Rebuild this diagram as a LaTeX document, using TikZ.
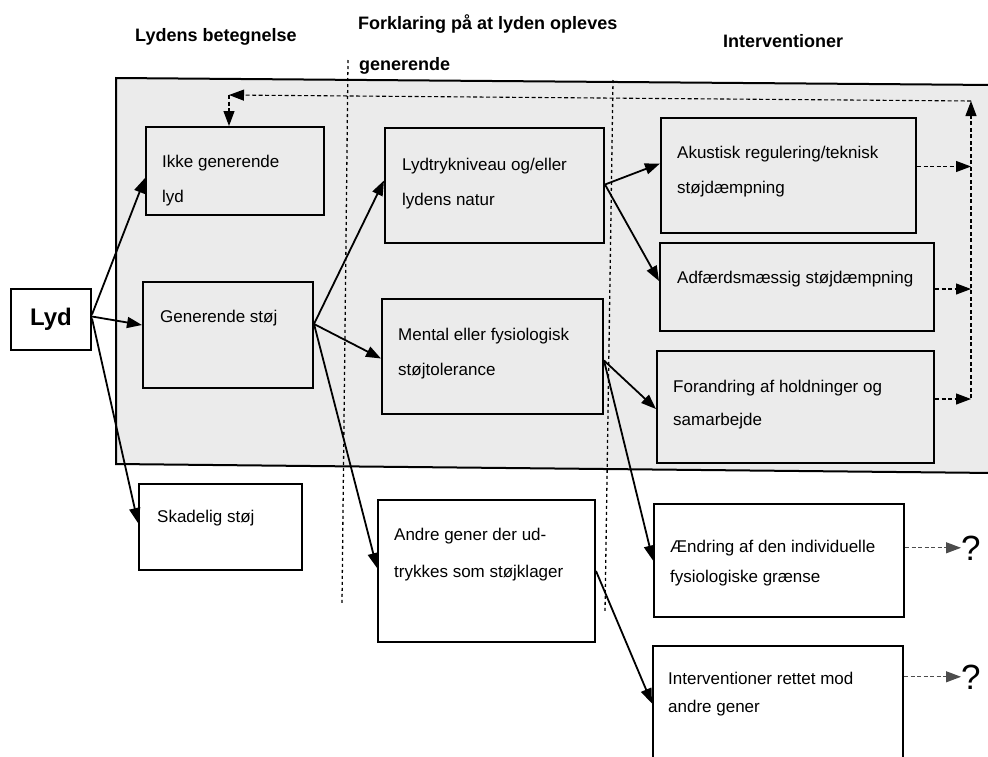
\documentclass[tikz,border=0pt]{standalone}
\usepackage{fontspec}
\setmainfont{Liberation Sans}
\usetikzlibrary{arrows.meta,calc}
\newcommand\twol[3]{{\fontsize{17}{#1}\selectfont\begin{tabular}[t]{@{}l@{}}#2\\#3\end{tabular}}}
\definecolor{graybg}{gray}{0.92}
\tikzset{
 box/.style={draw, line width=2pt, inner sep=0pt, anchor=north west},
 wbox/.style={box, fill=white},
 txt/.style={inner sep=0pt, anchor=base west, font=\fontsize{17}{35}\selectfont},
 hdr/.style={inner sep=0pt, anchor=base west, font=\bfseries\fontsize{18}{22}\selectfont},
 arr/.style={line width=1.8pt, -{Triangle[length=15pt,width=11pt]}},
 darr/.style={line width=1.1pt, dash pattern=on 4pt off 2.5pt, -{Triangle[length=15pt,width=11pt]}},
 sepline/.style={line width=1.3pt, dash pattern=on 3pt off 3pt},
 qm/.style={inner sep=0pt, anchor=base west, font=\fontsize{35}{40}\selectfont},
}
\begin{document}
\begin{tikzpicture}[x=1pt,y=-1pt]
\useasboundingbox (0,0) rectangle (988,756);
% gray region
\fill[graybg] (116,78) -- (995,85) -- (995,473) -- (116,464) -- cycle;
\draw[line width=2pt] (995,85) -- (116,78) -- (116,464) -- (995,473);
% column separators
\draw[sepline] (348,60) -- (342,603);
\draw[sepline] (613,80) -- (605,612);
% headers
\node[hdr] (h1) at (135,41) {Lydens betegnelse};
\node[hdr] (h2) at (358,29) {Forklaring på at lyden opleves};
\node[hdr] (h2b) at (359,70) {generende};
\node[hdr] (h3) at (723,47) {Interventioner};
% boxes
\node[wbox, minimum width=80pt, minimum height=61pt, font=\bfseries\fontsize{24}{28}\selectfont] (lyd) at (10,288) {Lyd};
\node[box, minimum width=178pt, minimum height=88pt] (ikke) at (145,126) {};
\node[box, minimum width=170pt, minimum height=106pt] (gen) at (142,281) {};
\node[wbox, minimum width=163pt, minimum height=86pt] (skad) at (138,483) {};
\node[box, minimum width=219pt, minimum height=115pt] (lydt) at (384,127) {};
\node[box, minimum width=221pt, minimum height=115pt] (ment) at (381,298) {};
\node[wbox, minimum width=217pt, minimum height=142pt] (andre) at (377,499) {};
\node[box, minimum width=255pt, minimum height=115pt] (akus) at (660,117) {};
\node[box, minimum width=274pt, minimum height=88pt] (adf) at (659,242) {};
\node[box, minimum width=277pt, minimum height=112pt] (forand) at (656,350) {};
\node[wbox, minimum width=250pt, minimum height=113pt] (aend) at (653,503) {};
\node[wbox, minimum width=250pt, minimum height=125pt] (interv) at (652,645) {};
% texts
\node[txt] (t1) at (162,167) {\twol{35}{Ikke generende}{lyd}};
\node[txt] (t2) at (160,322) {Generende støj};
\node[txt] (t3) at (157,522) {Skadelig støj};
\node[txt] (t4) at (402,170) {\twol{35}{Lydtrykniveau og/eller}{lydens natur}};
\node[txt] (t5) at (398,340) {\twol{35}{Mental eller fysiologisk}{støjtolerance}};
\node[txt] (t6) at (394,540) {\twol{37}{Andre gener der ud-}{trykkes som støjklager}};
\node[txt] (t7) at (677,158) {\twol{35}{Akustisk regulering/teknisk}{støjdæmpning}};
\node[txt] (t8) at (677,283) {Adfærdsmæssig støjdæmpning};
\node[txt] (t9) at (673,392) {\twol{33}{Forandring af holdninger og}{samarbejde}};
\node[txt] (t10) at (670,552) {\twol{30}{Ændring af den individuelle}{fysiologiske grænse}};
\node[txt] (t11) at (668,684) {\twol{28}{Interventioner rettet mod}{andre gener}};
\node[qm] (q1) at (961,560) {?};
\node[qm] (q2) at (961,689) {?};
% solid arrows
\draw[arr] ([yshift=5pt]lyd.east) -- ([yshift=-7pt]ikke.west);
\draw[arr] ([yshift=3pt]lyd.east) -- ([yshift=10pt]gen.west);
\draw[arr] ([yshift=1pt]lyd.east) -- ([yshift=4pt]skad.west);
\draw[arr] ([yshift=11pt]gen.east) -- ([yshift=5pt]lydt.west);
\draw[arr] ([yshift=11pt]gen.east) -- ([yshift=-2pt]ment.west);
\draw[arr] ([yshift=11pt]gen.east) -- ([yshift=3pt]andre.west);
\draw[arr] ([yshift=1pt]lydt.east) -- ([yshift=12pt]akus.west);
\draw[arr] ([yshift=1pt]lydt.east) -- ([yshift=6pt]adf.west);
\draw[arr] ([yshift=-4pt]ment.east) -- ([yshift=-2pt]forand.west);
\draw[arr] ([yshift=-4pt]ment.east) -- (aend.west);
\draw[arr] (andre.east) -- ([yshift=5pt]interv.west);
% feedback
\coordinate (fbR) at (971,101);
\coordinate (fbL) at (229,95);
\coordinate (fbB) at (971,398);
\draw[darr] ([yshift=9pt]akus.east) -- ([yshift=9pt]akus.east -| fbR);
\draw[darr] ([yshift=-2pt]adf.east) -- ([yshift=-2pt]adf.east -| fbR);
\draw[darr] ([yshift=8pt]forand.east) -- ([yshift=8pt]forand.east -| fbR);
\draw[darr] (fbB) -- (fbR);
\draw[darr] (fbR) -- (fbL);
\draw[darr] (fbL) -- (fbL |- ikke.north);
% question arrows
\draw[darr, black!70] (q1.west -| aend.east) -- (q1.west);
\draw[darr, black!70] (q2.west -| interv.east) -- (q2.west);
\end{tikzpicture}
\end{document}
